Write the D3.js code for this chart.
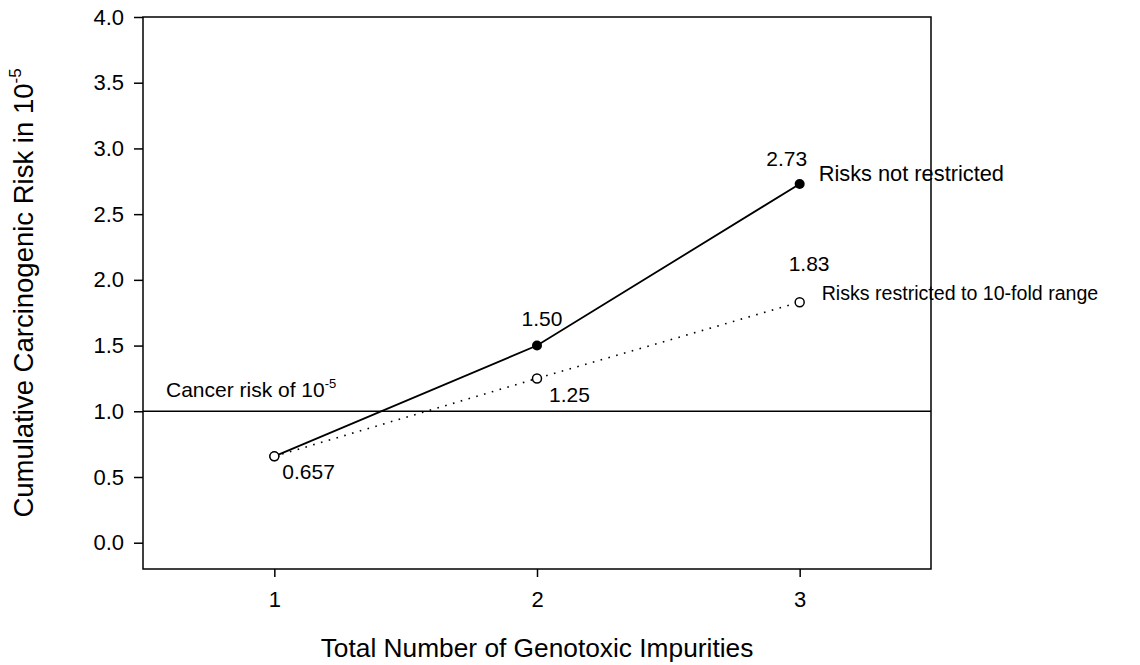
<!DOCTYPE html>
<html>
<head>
<meta charset="utf-8">
<script src="https://d3js.org/d3.v7.min.js"></script>
<style>
  body { margin: 0; background: #fff; }
  svg text { font-family: Arial, "Liberation Sans", sans-serif; fill: #000; }
</style>
</head>
<body>
<div class="chart"></div>
<script>
// data
var impurities = [1, 2, 3];
var notRestricted = [0.657, 1.50, 2.73];
var restricted = [0.657, 1.25, 1.83];
var notRestrictedLabels = ["", "1.50", "2.73"];
var restrictedLabels = ["0.657", "1.25", "1.83"];
var xTicks = [1, 2, 3];
var yTicks = [0, 0.5, 1, 1.5, 2, 2.5, 3, 3.5, 4];
var thresholdValue = 1.0;

var svgWidth = 1140;
var svgHeight = 665;

var margin = { top: 17, right: 209, bottom: 96, left: 143 };
var width = svgWidth - margin.left - margin.right;
var height = svgHeight - margin.top - margin.bottom;

var svg = d3.select(".chart")
  .append("svg")
  .attr("width", svgWidth)
  .attr("height", svgHeight);

var chartGroup = svg.append("g")
  .attr("transform", `translate(${margin.left}, ${margin.top})`);

var xScale = d3.scaleLinear().domain([0.5, 3.5]).range([0, width]);
var yScale = d3.scaleLinear().domain([-0.2, 4.0]).range([height, 0]);

// axes
var bottomAxis = d3.axisBottom(xScale).tickValues(xTicks).tickFormat(d3.format("d"))
  .tickSizeInner(8).tickSizeOuter(0).tickPadding(14);
var leftAxis = d3.axisLeft(yScale).tickValues(yTicks).tickFormat(d3.format(".1f"))
  .tickSizeInner(9).tickSizeOuter(0).tickPadding(10);

var xAxisG = chartGroup.append("g")
  .attr("transform", `translate(0, ${height})`)
  .call(bottomAxis);
var yAxisG = chartGroup.append("g").call(leftAxis);

[xAxisG, yAxisG].forEach(function(g) {
  g.select(".domain").remove();
  g.selectAll("line").attr("stroke", "#000").attr("stroke-width", 1.5);
  g.selectAll("text").style("font-size", "22px").attr("fill", "#000")
    .style("font-family", "Arial, 'Liberation Sans', sans-serif");
});

// frame
chartGroup.append("rect")
  .attr("x", 0).attr("y", 0)
  .attr("width", width).attr("height", height)
  .attr("fill", "none").attr("stroke", "#000").attr("stroke-width", 1.5);

// reference line at 10^-5
chartGroup.append("line")
  .attr("x1", 0).attr("x2", width)
  .attr("y1", yScale(thresholdValue)).attr("y2", yScale(thresholdValue))
  .attr("stroke", "#000").attr("stroke-width", 1.5);

var cancerText = chartGroup.append("text")
  .attr("x", 23)
  .attr("y", yScale(thresholdValue) - 14)
  .style("font-size", "21px");
cancerText.append("tspan").text("Cancer risk of 10");
cancerText.append("tspan").attr("dy", -9).style("font-size", "13px").text("-5");

var line = d3.line()
  .x((d, i) => xScale(impurities[i]))
  .y(d => yScale(d));

// restricted (dotted)
chartGroup.append("path")
  .datum(restricted)
  .attr("d", line)
  .attr("fill", "none")
  .attr("stroke", "#000")
  .attr("stroke-width", 1.6)
  .attr("stroke-dasharray", "1.6,6.5");

// not restricted (solid)
chartGroup.append("path")
  .datum(notRestricted)
  .attr("d", line)
  .attr("fill", "none")
  .attr("stroke", "#000")
  .attr("stroke-width", 1.8);

chartGroup.selectAll(".solidpt")
  .data(notRestricted)
  .enter()
  .append("circle")
  .attr("cx", (d, i) => xScale(impurities[i]))
  .attr("cy", d => yScale(d))
  .attr("r", 5)
  .attr("fill", "#000");

chartGroup.selectAll(".openpt")
  .data(restricted)
  .enter()
  .append("circle")
  .attr("cx", (d, i) => xScale(impurities[i]))
  .attr("cy", d => yScale(d))
  .attr("r", 4.5)
  .attr("fill", "#fff")
  .attr("stroke", "#000")
  .attr("stroke-width", 1.5);

// value labels
var solidOffsets = [[0, 0], [5, -20], [-13, -18]];
chartGroup.selectAll(".solidlab")
  .data(notRestricted)
  .enter()
  .append("text")
  .attr("x", (d, i) => xScale(impurities[i]) + solidOffsets[i][0])
  .attr("y", (d, i) => yScale(d) + solidOffsets[i][1])
  .attr("text-anchor", "middle")
  .style("font-size", "21px")
  .text((d, i) => notRestrictedLabels[i]);

var openOffsets = [[8, 23], [12, 24], [-11, -31]];
chartGroup.selectAll(".openlab")
  .data(restricted)
  .enter()
  .append("text")
  .attr("x", (d, i) => xScale(impurities[i]) + openOffsets[i][0])
  .attr("y", (d, i) => yScale(d) + openOffsets[i][1])
  .style("font-size", "21px")
  .text((d, i) => restrictedLabels[i]);

// series labels
var last = impurities.length - 1;
chartGroup.append("text")
  .attr("x", xScale(impurities[last]) + 19)
  .attr("y", yScale(notRestricted[last]) - 3)
  .style("font-size", "21.8px")
  .text("Risks not restricted");

chartGroup.append("text")
  .attr("x", xScale(impurities[last]) + 22)
  .attr("y", yScale(restricted[last]) - 2)
  .style("font-size", "19.6px")
  .text("Risks restricted to 10-fold range");

// axis titles
svg.append("text")
  .attr("x", margin.left + width / 2)
  .attr("y", 657)
  .attr("text-anchor", "middle")
  .style("font-size", "26.3px")
  .text("Total Number of Genotoxic Impurities");

var yTitle = svg.append("text")
  .attr("transform", `translate(33, ${margin.top + height / 2}) rotate(-90)`)
  .attr("text-anchor", "middle")
  .style("font-size", "27.5px");
yTitle.append("tspan").text("Cumulative Carcinogenic Risk in 10");
yTitle.append("tspan").attr("dy", -12).style("font-size", "17px").text("-5");
</script>
</body>
</html>
